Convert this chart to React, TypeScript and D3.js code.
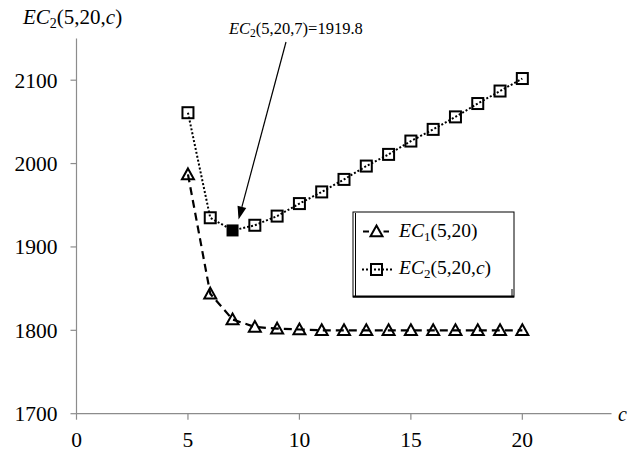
import React from "react";
import * as d3 from "d3";

// data
const cValues = [5, 6, 7, 8, 9, 10, 11, 12, 13, 14, 15, 16, 17, 18, 19, 20];
const ec1Values = [1987, 1844, 1813, 1804, 1802, 1801, 1800, 1800, 1800, 1800, 1800, 1800, 1800, 1800, 1800, 1800];
const ec2Values = [2061, 1935, 1919.8, 1926, 1937, 1952, 1966, 1981, 1997, 2011, 2027, 2041, 2056, 2072, 2087, 2102];
const xTicks = [0, 5, 10, 15, 20];
const yTicks = [1700, 1800, 1900, 2000, 2100];
const optimumC = 7;
const optimumValue = 1919.8;

const W = 629;
const H = 454;
const FONT = "Liberation Serif";

const triPath = (x: number, y: number, s = 6) =>
  `M${x},${y - s}L${x + s},${y + s * 0.8}L${x - s},${y + s * 0.8}Z`;

const App = () => {
  const x = d3.scaleLinear().domain([0, 24]).range([76.5, 611.5]);
  const y = d3.scaleLinear().domain([1700, 2150]).range([413.7, 38.5]);

  const ec1 = cValues.map((c, i) => ({ c, v: ec1Values[i] }));
  const ec2 = cValues.map((c, i) => ({ c, v: ec2Values[i] }));

  const lineGen = d3
    .line<{ c: number; v: number }>()
    .x((d) => x(d.c))
    .y((d) => y(d.v));

  const axisColor = "#8c8c8c";
  const optX = x(optimumC);
  const optY = y(optimumValue);

  // arrow from annotation text down to the optimum point
  const arrowStart: [number, number] = [286, 42];
  const arrowEnd: [number, number] = [optX + 6, optY - 11];
  const ang = Math.atan2(arrowEnd[1] - arrowStart[1], arrowEnd[0] - arrowStart[0]);
  const headLen = 13;
  const headW = 4.5;
  const hb: [number, number] = [arrowEnd[0] - headLen * Math.cos(ang), arrowEnd[1] - headLen * Math.sin(ang)];
  const head = `M${arrowEnd[0]},${arrowEnd[1]}L${hb[0] + headW * Math.sin(ang)},${hb[1] - headW * Math.cos(ang)}L${hb[0] - headW * Math.sin(ang)},${hb[1] + headW * Math.cos(ang)}Z`;

  // legend box
  const lg = { x: 353, y: 212, w: 161, h: 85 };
  const row1 = 231.5;
  const row2 = 269.5;
  const lgMark = 376.5;

  return (
    <svg width={W} height={H} style={{ position: "absolute", left: 0, top: 0, background: "#fff" }} fontFamily={FONT}>
      <style>{`text, tspan { font-family: "Liberation Serif", serif; }`}</style>
      {/* y axis */}
      <line x1={x(0)} x2={x(0)} y1={y(2150)} y2={y(1700)} stroke={axisColor} strokeWidth={1.2} />
      {yTicks.map((t) => (
        <g key={t}>
          <line x1={x(0) - 6} x2={x(0)} y1={y(t)} y2={y(t)} stroke={axisColor} strokeWidth={1.2} />
          <text x={x(0) - 19} y={y(t) + 7.5} textAnchor="end" fontSize={21.5} fontFamily={FONT}>
            {t}
          </text>
        </g>
      ))}
      {/* x axis */}
      <line x1={x(0)} x2={x(24)} y1={y(1700)} y2={y(1700)} stroke={axisColor} strokeWidth={1.2} />
      {xTicks.map((t) => (
        <g key={t}>
          <line x1={x(t)} x2={x(t)} y1={y(1700)} y2={y(1700) + 6} stroke={axisColor} strokeWidth={1.2} />
          <text x={x(t)} y={447} textAnchor="middle" fontSize={21.5} fontFamily={FONT}>
            {t}
          </text>
        </g>
      ))}
      <text x={618} y={421} fontSize={20} fontStyle="italic" fontFamily={FONT}>
        c
      </text>

      {/* y axis title */}
      <text x={23} y={24} fontSize={21} fontFamily={FONT}>
        <tspan fontStyle="italic">EC</tspan>
        <tspan fontSize={14} dy={4}>2</tspan>
        <tspan dy={-4}>(5,20,</tspan>
        <tspan fontStyle="italic">c</tspan>
        <tspan>)</tspan>
      </text>

      {/* series lines */}
      <path d={lineGen(ec1) ?? ""} fill="none" stroke="#000" strokeWidth={2.2} strokeDasharray="8,5" />
      <path d={lineGen(ec2) ?? ""} fill="none" stroke="#000" strokeWidth={2} strokeDasharray="2,2" />

      {/* markers */}
      {ec1.map((d) => (
        <path key={"t" + d.c} d={triPath(x(d.c), y(d.v))} fill="none" stroke="#000" strokeWidth={2} />
      ))}
      {ec2.map((d) =>
        d.c === optimumC ? (
          <rect key={"s" + d.c} x={x(d.c) - 6} y={y(d.v) - 6} width={12} height={12} fill="#000" />
        ) : (
          <rect key={"s" + d.c} x={x(d.c) - 5.5} y={y(d.v) - 5.5} width={11} height={11} fill="none" stroke="#000" strokeWidth={2} />
        )
      )}

      {/* annotation */}
      <text x={229} y={34} fontSize={16.5} fontFamily={FONT}>
        <tspan fontStyle="italic">EC</tspan>
        <tspan fontSize={11.5} dy={3}>2</tspan>
        <tspan dy={-3}>(5,20,7)=1919.8</tspan>
      </text>
      <line x1={arrowStart[0]} y1={arrowStart[1]} x2={hb[0]} y2={hb[1]} stroke="#000" strokeWidth={1.2} />
      <path d={head} fill="#000" />

      {/* legend */}
      <rect x={lg.x} y={lg.y} width={lg.w} height={lg.h} fill="#fff" stroke="#000" strokeWidth={1} />
      <line x1={lg.x + 2.5} x2={lg.x + 2.5} y1={lg.y + 1} y2={lg.y + lg.h - 1} stroke="#000" strokeWidth={1} />
      <line x1={lg.x} x2={lg.x + lg.w} y1={lg.y + lg.h - 0.5} y2={lg.y + lg.h - 0.5} stroke="#000" strokeWidth={2} />
      <line x1={lg.x + lg.w - 2} x2={lg.x + lg.w - 2} y1={lg.y + lg.h - 8} y2={lg.y + lg.h} stroke="#000" strokeWidth={1} />

      <line x1={362} x2={392} y1={row1} y2={row1} stroke="#000" strokeWidth={2.2} strokeDasharray="6,4" strokeDashoffset={-1} />
      <rect x={lgMark - 7} y={row1 - 7} width={14} height={14} fill="#fff" />
      <path d={triPath(lgMark, row1)} fill="none" stroke="#000" strokeWidth={2} />
      <text x={399} y={236.5} fontSize={19.5} fontFamily={FONT}>
        <tspan fontStyle="italic">EC</tspan>
        <tspan fontSize={13} dy={4}>1</tspan>
        <tspan dy={-4}>(5,20)</tspan>
      </text>

      <line x1={362} x2={392} y1={row2} y2={row2} stroke="#000" strokeWidth={2} strokeDasharray="2,2" />
      <rect x={lgMark - 5.5} y={row2 - 5.5} width={11} height={11} fill="none" stroke="#000" strokeWidth={2} />
      <text x={399} y={274} fontSize={19.5} fontFamily={FONT}>
        <tspan fontStyle="italic">EC</tspan>
        <tspan fontSize={13} dy={4}>2</tspan>
        <tspan dy={-4}>(5,20,</tspan>
        <tspan fontStyle="italic">c</tspan>
        <tspan>)</tspan>
      </text>
    </svg>
  );
};

export default App;
